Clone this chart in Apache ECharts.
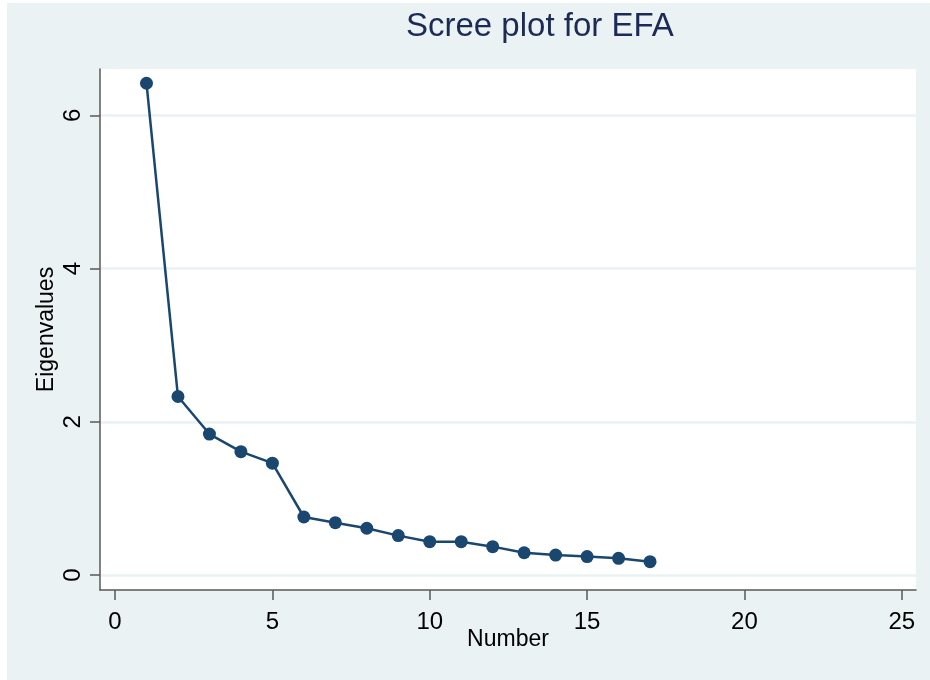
<!DOCTYPE html>
<html>
<head>
<meta charset="utf-8">
<script src="https://cdn.jsdelivr.net/npm/echarts@6/dist/echarts.min.js"></script>
<style>
html, body { margin: 0; padding: 0; background: #fff; }
#main { position: absolute; left: 7px; top: 3px; width: 923px; height: 677px; }
</style>
</head>
<body>
<div id="main"></div>
<script>
// factor number vs eigenvalue
var numbers = [1, 2, 3, 4, 5, 6, 7, 8, 9, 10, 11, 12, 13, 14, 15, 16, 17];
var eigenvalues = [6.42, 2.33, 1.84, 1.61, 1.46, 0.757, 0.683, 0.61, 0.514, 0.435, 0.435, 0.37, 0.29, 0.26, 0.24, 0.218, 0.174];
var xTicks = [0, 5, 10, 15, 20, 25];
var yTicks = [0, 2, 4, 6];

var points = numbers.map(function (n, i) { return [n, eigenvalues[i]]; });
var font = 'Liberation Sans, Arial, sans-serif';

echarts.init(document.getElementById('main')).setOption({
    backgroundColor: '#eaf2f3',
    animation: false,
    title: {
        text: 'Scree plot for EFA',
        left: 399,
        top: 7,
        padding: 0,
        textStyle: {
            color: '#1c2a55',
            fontFamily: font,
            fontSize: 33,
            fontWeight: 'normal'
        }
    },
    grid: {
        left: 93,
        top: 66,
        right: 14,
        bottom: 90,
        show: true,
        backgroundColor: '#fff',
        borderWidth: 0
    },
    xAxis: {
        type: 'value',
        min: -0.477,
        max: 25.45,
        name: 'Number',
        nameLocation: 'middle',
        nameGap: 38,
        nameMoveOverlap: false,
        nameTextStyle: { color: '#000', fontFamily: font, fontSize: 23 },
        axisLine: { show: true, onZero: false, lineStyle: { color: '#5a5a5a', width: 1.5 } },
        axisTick: { show: true, length: 10, customValues: xTicks, lineStyle: { color: '#5a5a5a', width: 1.5 } },
        axisLabel: { customValues: xTicks, margin: 20, color: '#000', fontFamily: font, fontSize: 24 },
        splitLine: { show: false }
    },
    yAxis: {
        type: 'value',
        min: -0.196,
        max: 6.606,
        name: 'Eigenvalues',
        nameLocation: 'middle',
        nameGap: 42,
        nameMoveOverlap: false,
        nameTextStyle: { color: '#000', fontFamily: font, fontSize: 23 },
        axisLine: { show: true, onZero: false, lineStyle: { color: '#5a5a5a', width: 1.5 } },
        axisTick: { show: true, length: 10, customValues: yTicks, lineStyle: { color: '#5a5a5a', width: 1.5 } },
        axisLabel: { customValues: yTicks, rotate: 90, margin: 15, color: '#000', fontFamily: font, fontSize: 24 },
        splitLine: { show: true, lineStyle: { color: '#eaf2f3', width: 2.5 } }
    },
    series: [{
        type: 'line',
        data: points,
        symbol: 'circle',
        symbolSize: 13,
        showSymbol: true,
        lineStyle: { color: '#1a476f', width: 2.5 },
        itemStyle: { color: '#1a476f' },
        emphasis: { disabled: true }
    }]
});
</script>
</body>
</html>
